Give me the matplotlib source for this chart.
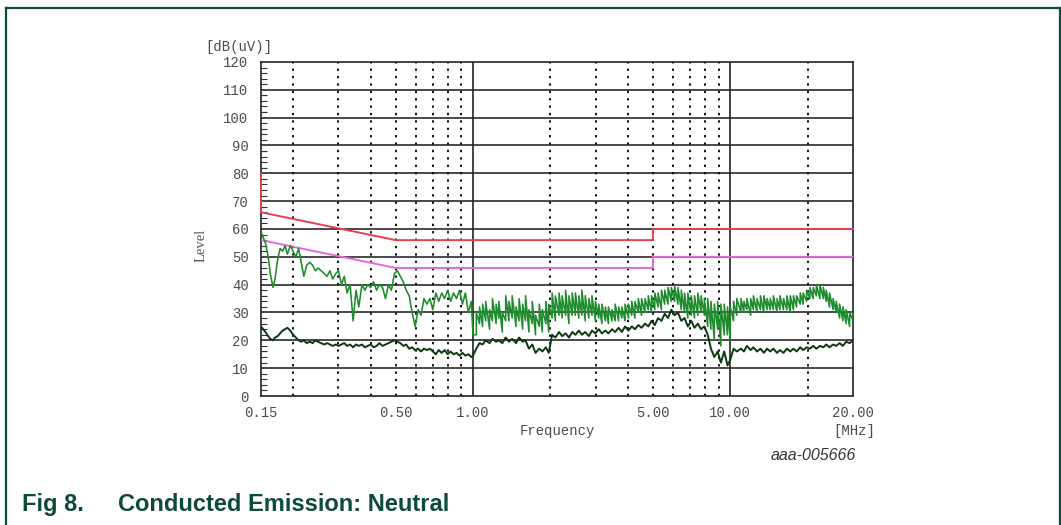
import matplotlib
matplotlib.use("Agg")
import matplotlib.pyplot as plt
from matplotlib.lines import Line2D
import numpy as np

# ---- sweep frequencies (MHz) ----
freq_low = [
    0.150, 0.153, 0.156, 0.160, 0.163, 0.167, 0.170, 0.174, 0.178, 0.182,
    0.186, 0.190, 0.195, 0.200, 0.205, 0.210, 0.215, 0.220, 0.226, 0.232,
    0.238, 0.244, 0.250, 0.257, 0.264, 0.271, 0.278, 0.285, 0.293, 0.300,
    0.308, 0.316, 0.324, 0.333, 0.342, 0.351, 0.360, 0.370, 0.380, 0.390,
    0.400, 0.411, 0.422, 0.433, 0.445, 0.457, 0.469, 0.482, 0.495, 0.508,
    0.522, 0.536, 0.550, 0.565, 0.580, 0.596, 0.612, 0.628, 0.645, 0.662,
    0.680, 0.698, 0.717, 0.736, 0.756, 0.776, 0.797, 0.818, 0.840, 0.863,
    0.886, 0.910, 0.934, 0.959, 0.985, 1.000,
]
freq_high = [
    1.03, 1.06, 1.09, 1.12, 1.16, 1.19, 1.23, 1.26, 1.30, 1.34,
    1.38, 1.42, 1.47, 1.51, 1.56, 1.60, 1.65, 1.70, 1.75, 1.81,
    1.86, 1.92, 1.97, 2.03, 2.09, 2.16, 2.22, 2.29, 2.36, 2.43,
    2.50, 2.58, 2.65, 2.73, 2.82, 2.90, 2.99, 3.08, 3.17, 3.27,
    3.36, 3.47, 3.57, 3.68, 3.79, 3.90, 4.02, 4.14, 4.26, 4.39,
    4.52, 4.66, 4.80, 4.94, 5.09, 5.24, 5.40, 5.56, 5.73, 5.90,
    6.08, 6.26, 6.45, 6.64, 6.84, 7.05, 7.26, 7.48, 7.70, 7.93,
    8.17, 8.41, 8.67, 8.93, 9.19, 9.47, 9.75, 10.0, 10.3, 10.6,
    11.0, 11.3, 11.6, 12.0, 12.3, 12.7, 13.1, 13.5, 13.9, 14.3,
    14.7, 15.2, 15.6, 16.1, 16.6, 17.1, 17.6, 18.1, 18.7, 19.2,
    19.8, 20.4, 21.0, 21.6, 22.3, 23.0, 23.6, 24.3, 25.1, 25.8,
    26.6, 27.4, 28.2, 29.1, 30.0,
]

# ---- peak detector level, dB(uV) ----
peak_low = [
    59, 57, 55, 50, 44, 39, 42, 49, 53, 52,
    54, 51, 54, 52, 50, 53, 48, 43, 47, 48,
    47, 45, 46, 45, 44, 43, 45, 42, 44, 45,
    40, 43, 37, 40, 27, 38, 32, 40, 38, 40,
    39, 41, 38, 40, 39, 35, 40, 38, 44, 45,
    43, 41, 38, 36, 30, 25, 31, 29, 35, 33,
    35, 31, 37, 34, 37, 35, 38, 34, 37, 35,
    38, 33, 37, 30, 34, 22,
]
# above 1 MHz the peak reading swings fast: min / max within each step
peak_high_min = [
    22, 26, 25, 27, 24, 27, 26, 28, 23, 27,
    27, 28, 25, 27, 24, 27, 23, 26, 22, 25,
    23, 26, 23, 28, 27, 29, 28, 29, 26, 29,
    29, 28, 29, 27, 28, 29, 27, 28, 26, 27,
    26, 27, 27, 27, 28, 27, 28, 29, 28, 30,
    29, 30, 31, 30, 31, 32, 31, 33, 33, 34,
    34, 33, 31, 30, 28, 29, 28, 29, 30, 29,
    25, 24, 20, 24, 18, 22, 22, 20, 27, 29,
    30, 30, 31, 29, 31, 30, 31, 30, 31, 31,
    31, 30, 31, 31, 31, 30, 31, 32, 33, 33,
    34, 35, 35, 36, 35, 35, 34, 32, 31, 30,
    28, 27, 26, 25, 27,
]
peak_high_max = [
    30, 32, 33, 34, 31, 35, 33, 34, 30, 36,
    34, 36, 32, 35, 33, 36, 31, 34, 29, 33,
    31, 34, 33, 37, 36, 37, 36, 38, 36, 37,
    37, 36, 38, 36, 35, 36, 34, 33, 33, 32,
    32, 31, 33, 32, 32, 33, 33, 34, 34, 35,
    35, 35, 36, 36, 37, 37, 38, 38, 39, 39,
    39.5, 39, 38, 37, 37, 36, 36, 37, 36, 35,
    35, 34, 33, 34, 33, 33, 32, 32, 34, 35,
    35, 34, 35, 35, 36, 35, 36, 36, 35, 35,
    36, 35, 36, 35, 36, 36, 36, 36, 37, 37,
    38, 39, 39, 40, 40, 39, 38, 37, 35, 34,
    33, 32, 31, 30, 30,
]

# ---- average detector level, dB(uV) ----
avg_low = [
    25, 24, 23, 21.5, 20.5, 20, 21, 21.5, 22.5, 23.5,
    24, 24.5, 23.5, 22, 21, 20, 19.5, 20, 19, 19.5,
    19, 20, 19.5, 19, 18.5, 19, 18.5, 18, 18.5, 18,
    18.5, 19, 18, 18.5, 17.5, 18.5, 18, 18.5, 17.5, 18,
    18.5, 17.5, 18, 19, 18, 18.5, 19, 19.5, 20, 19.5,
    19, 18, 18.5, 17, 17.5, 16.5, 17, 16, 17, 16.5,
    17, 16, 15, 16.5, 15.5, 16.5, 15, 16, 15, 15.5,
    14.5, 15.5, 14.5, 15, 14, 14.5,
]
avg_high = [
    17, 19, 18.5, 20, 19, 20.5, 19.5, 20, 19, 21,
    19.5, 20.5, 19, 21, 19.5, 20, 17, 18.5, 15.5, 17,
    16, 17.5, 15.5, 22, 21, 23, 21.5, 22.5, 21, 23,
    22, 23.5, 22, 23, 21.5, 23.5, 22.5, 24, 22.5, 23.5,
    22.5, 24, 23, 24.5, 23, 25, 23.5, 25, 24, 25.5,
    24.5, 26, 25, 27, 25.5, 28, 27, 29.5, 28, 31,
    29, 30, 27, 28, 25, 27, 24.5, 26, 24, 25,
    22, 17, 14, 16, 12, 16, 11, 13, 17, 16,
    17, 16, 18, 16.5, 17.5, 16, 17, 15.5, 17, 16,
    17, 15.5, 16.5, 15.5, 17, 16, 17, 16, 17.5, 16.5,
    17.5, 17, 18, 17, 18, 17.5, 18.5, 17.5, 18.5, 18,
    19, 18, 19.5, 19, 20,
]

# ---- limit lines (EN 55022 class B) ----
limit_freq = [0.15, 0.15, 0.50, 5.0, 5.0, 30.0]
qp_limit = [80, 66, 56, 56, 60, 60]
avg_limit_freq = [0.15, 0.50, 5.0, 5.0, 30.0]
avg_limit = [56, 46, 46, 50, 50]

y_ticks = [0, 10, 20, 30, 40, 50, 60, 70, 80, 90, 100, 110, 120]
x_tick_vals = [0.15, 0.50, 1.00, 5.00, 10.00, 30.00]
x_tick_text = ["0.15", "0.50", "1.00", "5.00", "10.00", "20.00"]
dotted_grid = [0.2, 0.3, 0.4, 0.5, 0.6, 0.7, 0.8, 0.9,
               2, 3, 4, 5, 6, 7, 8, 9, 20]
solid_grid = [1, 10]

# peak trace: single readings below 1 MHz, min/max per step above
peak_x = list(freq_low)
peak_y = list(peak_low)
for f, lo, hi in zip(freq_high, peak_high_min, peak_high_max):
    peak_x += [f, f]
    peak_y += [lo, hi]

avg_x = freq_low + freq_high
avg_y = avg_low + avg_high

mono = "Liberation Mono"
tick_color = "#4a4a4a"
frame_color = "#0e4a3c"

fig = plt.figure(figsize=(10.61, 5.25), dpi=100)
ax = fig.add_axes([0.246, 0.2457, 0.558, 0.6363])

ax.set_xscale("log")
ax.set_xlim(0.15, 30)
ax.set_ylim(0, 120)

# grid
for y in y_ticks[1:-1]:
    ax.axhline(y, color="#2a2a2a", lw=1.2, zorder=1)
for x in dotted_grid:
    ax.axvline(x, color="#111111", lw=1.4, linestyle=(0, (1.2, 2.6)), zorder=1)
for x in solid_grid:
    ax.axvline(x, color="#222222", lw=1.2, zorder=1)

# limits
ax.plot(limit_freq, qp_limit, color="#e8404c", lw=1.4, zorder=3,
        clip_on=False)
ax.plot(avg_limit_freq, avg_limit, color="#e46ad8", lw=1.4, zorder=3)

# measured traces
ax.plot(peak_x, peak_y, color="#1e8c2c", lw=1.15, zorder=4)
ax.plot(avg_x, avg_y, color="#0c3812", lw=1.4, zorder=5)

# axes styling
for s in ax.spines.values():
    s.set_color("#222222")
    s.set_linewidth(1.2)
ax.set_yticks(y_ticks)
ax.set_yticklabels([str(v) for v in y_ticks], family=mono, fontsize=10,
                   color=tick_color)
ax.set_yticks(np.arange(0, 121, 2), minor=True)
ax.tick_params(axis="y", which="major", length=0, pad=9)
ax.tick_params(axis="y", which="minor", direction="in", length=4,
               width=0.8, color="#333333")
ax.xaxis.set_minor_locator(matplotlib.ticker.NullLocator())
ax.set_xticks(x_tick_vals)
ax.set_xticklabels(x_tick_text, family=mono, fontsize=10, color=tick_color)
ax.tick_params(axis="x", which="major", length=0, pad=7)

# axis texts
fig.text(205 / 1061, 1 - 47 / 525, "[dB(uV)]", family=mono, fontsize=10,
         color=tick_color, ha="left", va="center")
fig.text(201 / 1061, 1 - 245 / 525, "Level", family="Liberation Serif",
         fontsize=10.5, color="#555555", rotation=90, ha="center",
         va="center")
fig.text(557 / 1061, 1 - 431 / 525, "Frequency", family=mono, fontsize=10,
         color=tick_color, ha="center", va="center")
fig.text(875 / 1061, 1 - 431 / 525, "[MHz]", family=mono, fontsize=10,
         color=tick_color, ha="right", va="center")
fig.text(856 / 1061, 1 - 455 / 525, "aaa-005666", family="Liberation Sans",
         style="italic", fontsize=11.5, color="#333333", ha="right",
         va="center")

# caption
cap_y = 1 - 511 / 525
fig.text(22 / 1061, cap_y, "Fig 8.", family="Liberation Sans",
         weight="bold", fontsize=17, color=frame_color, ha="left",
         va="baseline")
fig.text(118 / 1061, cap_y, "Conducted Emission: Neutral",
         family="Liberation Sans", weight="bold", fontsize=17,
         color=frame_color, ha="left", va="baseline")

# page frame
fx0, fx1, fy = 5.5 / 1061, 1059.5 / 1061, 1 - 7.5 / 525
fig.add_artist(Line2D([fx0, fx1], [fy, fy], color=frame_color, lw=1.6,
                      transform=fig.transFigure))
fig.add_artist(Line2D([fx0, fx0], [0, fy], color=frame_color, lw=1.6,
                      transform=fig.transFigure))
fig.add_artist(Line2D([fx1, fx1], [0, fy], color=frame_color, lw=1.6,
                      transform=fig.transFigure))

fig.savefig("out.png", dpi=100)
